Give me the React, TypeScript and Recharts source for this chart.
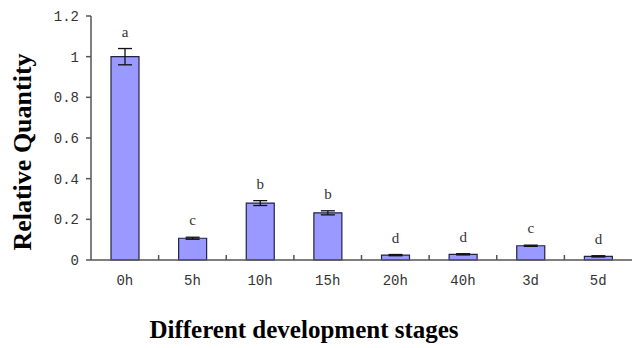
import { Bar, BarChart, ErrorBar, LabelList, XAxis, YAxis } from "recharts";

const stages = ["0h", "5h", "10h", "15h", "20h", "40h", "3d", "5d"];
const quantity = [1.0, 0.107, 0.28, 0.232, 0.024, 0.028, 0.07, 0.018];
const errors = [0.04, 0.005, 0.012, 0.01, 0.003, 0.003, 0.003, 0.003];
const letters = ["a", "c", "b", "b", "d", "d", "c", "d"];
const yTicks = [0, 0.2, 0.4, 0.6, 0.8, 1, 1.2];

const data = stages.map((s, i) => ({
  stage: s,
  q: quantity[i],
  err: errors[i],
  letter: letters[i],
}));

const AXIS = "#555";
const TICK_FONT = "'Liberation Mono', monospace";
const TITLE_FONT = "'Liberation Serif', 'Times New Roman', serif";

function StageTick(props: any) {
  const { x, y, payload, index } = props;
  const half = payload?.offset ?? 0;
  return (
    <g>
      <text
        x={x}
        y={y + 25}
        textAnchor="middle"
        fontFamily={TICK_FONT}
        fontSize={14}
        fill="#333"
      >
        {payload.value}
      </text>
      {index < stages.length - 1 && (
        <line x1={x + half} x2={x + half} y1={y} y2={y - 5} stroke={AXIS} strokeWidth={1.5} />
      )}
    </g>
  );
}

function LetterLabel(props: any) {
  const { x, y, width, height, index } = props;
  const v = quantity[index];
  const errPx = v > 0 ? (errors[index] * height) / v : 0;
  return (
    <text
      x={x + width / 2}
      y={y - errPx - 12}
      textAnchor="middle"
      fontFamily={TITLE_FONT}
      fontSize={15}
      fill="#333"
    >
      {letters[index]}
    </text>
  );
}

export default function App() {
  return (
    <div style={{ position: "fixed", left: 0, top: 0, background: "#fff" }}>
      <BarChart
        width={633}
        height={348}
        data={data}
        margin={{ top: 16, right: 1, left: 0, bottom: 0 }}
      >
        <XAxis
          dataKey="stage"
          height={88}
          tickSize={0}
          tickMargin={0}
          tickLine={false}
          axisLine={{ stroke: AXIS, strokeWidth: 1.5 }}
          tick={StageTick}
          interval={0}
          label={{
            content: () => (
              <text
                x={304}
                y={338}
                textAnchor="middle"
                fontFamily={TITLE_FONT}
                fontWeight="bold"
                fontSize={25}
                fill="#000"
              >
                Different development stages
              </text>
            ),
          }}
        />
        <YAxis
          width={91}
          domain={[0, 1.2]}
          ticks={yTicks}
          interval={0}
          tickSize={5}
          tickMargin={7}
          tick={{ fill: "#333", fontSize: 14, fontFamily: TICK_FONT }}
          tickLine={{ stroke: AXIS, strokeWidth: 1.5 }}
          axisLine={{ stroke: AXIS, strokeWidth: 1.5 }}
          label={{
            content: () => (
              <text
                transform="translate(31, 152) rotate(-90)"
                textAnchor="middle"
                fontFamily={TITLE_FONT}
                fontWeight="bold"
                fontSize={26}
                fill="#000"
              >
                Relative Quantity
              </text>
            ),
          }}
        />
        <Bar
          dataKey="q"
          barSize={28}
          fill="#9999FF"
          stroke="#222244"
          strokeWidth={1.2}
          isAnimationActive={false}
        >
          <ErrorBar dataKey="err" width={7} stroke="#111" strokeWidth={1.3} />
          <LabelList dataKey="letter" content={LetterLabel} />
        </Bar>
      </BarChart>
    </div>
  );
}
